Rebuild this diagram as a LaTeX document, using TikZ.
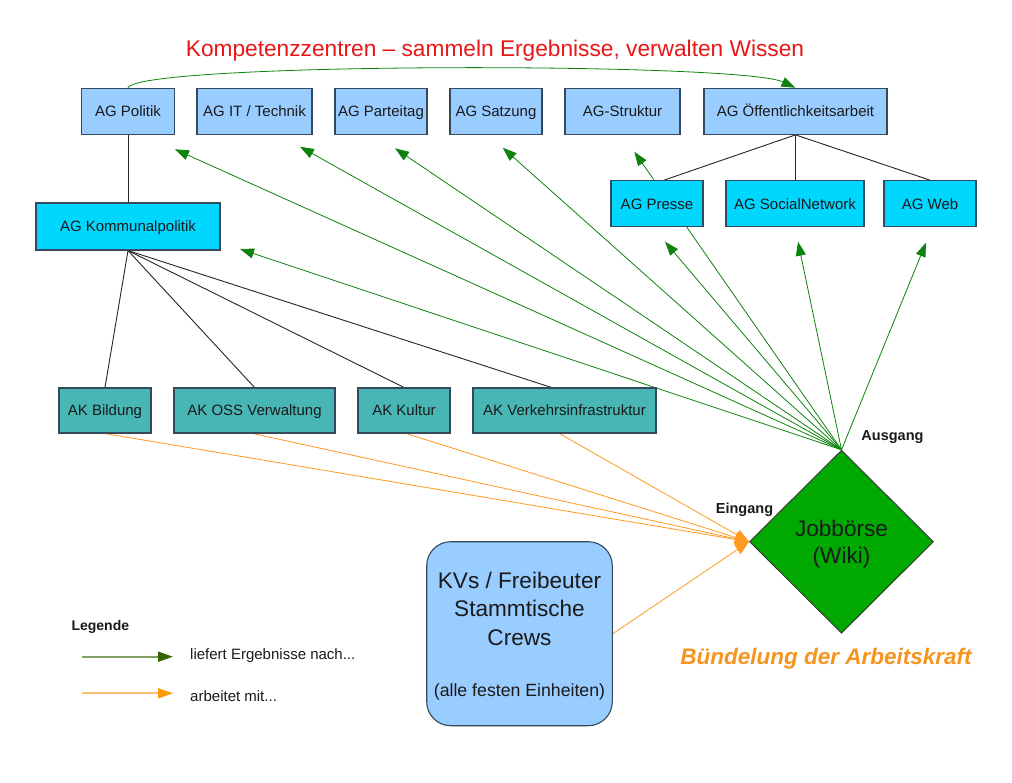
\documentclass[tikz,border=0pt]{standalone}
\usepackage{fontspec}
\setmainfont{Liberation Sans}
\usetikzlibrary{shapes.geometric,arrows.meta,backgrounds,calc}
\definecolor{boxblue}{HTML}{99CCFF}
\definecolor{cyanbox}{HTML}{00D7FF}
\definecolor{tealbox}{HTML}{47B6B4}
\definecolor{jobgreen}{HTML}{00A800}
\definecolor{edgedark}{HTML}{34495A}
\definecolor{arrgreen}{HTML}{0E820E}
\definecolor{arrorange}{HTML}{FF9A1F}
\definecolor{titlered}{HTML}{E81616}
\definecolor{legline}{HTML}{7E9E62}
\definecolor{leghead}{HTML}{336600}
\definecolor{legorange}{HTML}{FFC078}
\definecolor{legoranghead}{HTML}{FF9900}
\definecolor{bundorange}{HTML}{F7941D}
\definecolor{txt}{HTML}{1A1A1A}
\begin{document}
\begin{tikzpicture}[x=1pt,y=-1pt,
  box/.style={draw=edgedark, line width=1.1pt, inner sep=0pt, minimum height=46pt,
    text=txt, font=\fontsize{15}{18}\selectfont, text height=10.8pt, text depth=0pt},
  agbox/.style={box, fill=boxblue},
  subbox/.style={box, fill=cyanbox},
  akbox/.style={box, fill=tealbox, minimum height=45pt},
  gline/.style={draw=arrgreen, line width=0.8pt, -{Triangle[length=14pt,width=10pt]}},
  oline/.style={draw=arrorange, line width=0.8pt, -{Triangle[length=14pt,width=11pt]}},
  tline/.style={draw=black!85, line width=0.9pt},
  lbl/.style={anchor=base, text=txt},
  bignum/.style={anchor=base, text=txt, font=\fontsize{22.6}{27}\selectfont}
]
\useasboundingbox (0,0) rectangle (1012,782);

% title
\node[anchor=base, text=titlered, font=\fontsize{22.7}{27}\selectfont] (title) at (495,56)
  {Kompetenzzentren – sammeln Ergebnisse, verwalten Wissen};

% top row
\node[agbox,minimum width=93pt]  (pol)   at (128,111.3)   {AG Politik};
\node[agbox,minimum width=115pt] (it)    at (254.5,111.3) {AG IT / Technik};
\node[agbox,minimum width=92pt]  (part)  at (381,111.3)   {AG Parteitag};
\node[agbox,minimum width=92pt]  (satz)  at (496,111.3)   {AG Satzung};
\node[agbox,minimum width=115pt] (struk) at (622.5,111.3) {AG-Struktur};
\node[agbox,minimum width=183pt] (oeff)  at (795.5,111.3) {AG Öffentlichkeitsarbeit};

% second row right
\node[subbox,minimum width=92pt]  (presse) at (657,203.7) {AG Presse};
\node[subbox,minimum width=138pt] (social) at (795,203.7) {AG SocialNetwork};
\node[subbox,minimum width=92pt]  (web)    at (930,203.7) {AG Web};

% Kommunalpolitik
\node[subbox,minimum width=184pt,minimum height=47pt] (komm) at (128,226.5) {AG Kommunalpolitik};

% AK row
\node[akbox,minimum width=92pt]  (bild) at (105,410.5)   {AK Bildung};
\node[akbox,minimum width=161pt] (oss)  at (254.5,410.5) {AK OSS Verwaltung};
\node[akbox,minimum width=92pt]  (kult) at (404,410.5)   {AK Kultur};
\node[akbox,minimum width=183pt] (verk) at (564.5,410.5) {AK Verkehrsinfrastruktur};

% KVs box
\node[draw=edgedark, line width=1.1pt, fill=boxblue, rounded corners=24pt,
  minimum width=185.6pt, minimum height=184pt, inner sep=0pt] (kvs) at (519.5,633.7) {};
\node[bignum] (kvs1) at (519.5,588.3) {KVs / Freibeuter};
\node[bignum] (kvs2) at (519.5,616.7) {Stammtische};
\node[bignum] (kvs3) at (519.5,645) {Crews};
\node[lbl, font=\fontsize{17.7}{21}\selectfont] (kvs4) at (519.5,696.5) {(alle festen Einheiten)};

% Jobboerse diamond
\node[diamond, draw=black!80, fill=jobgreen, line width=0.9pt, aspect=1,
  minimum width=184pt, minimum height=183pt, inner sep=0pt] (job) at (841.5,541.7) {};
\node[bignum] (job1) at (841.5,536.7) {Jobbörse};
\node[bignum] (job2) at (841.5,563) {(Wiki)};

% labels
\node[lbl, font=\bfseries\fontsize{14.5}{17}\selectfont] (ausg) at (892.5,440.3) {Ausgang};
\node[lbl, font=\bfseries\fontsize{14.5}{17}\selectfont] (eing) at (744.5,513.3) {Eingang};
\node[anchor=base, text=bundorange, font=\bfseries\itshape\fontsize{22.5}{27}\selectfont] (bund)
  at (826,664.4) {Bündelung der Arbeitskraft};

% legend
\node[anchor=base west, text=txt, font=\bfseries\fontsize{14}{17}\selectfont] (leg) at (68,630) {Legende};
\coordinate (lg1a) at (82,656.7);
\coordinate (lg1b) at (173,656.7);
\coordinate (lg2a) at (82,693.3);
\coordinate (lg2b) at (173,693.3);
\draw[draw=legline, line width=1.8pt, -{Triangle[length=15pt,width=10pt,color=leghead]}] (lg1a) -- (lg1b);
\draw[draw=legorange, line width=1.8pt, -{Triangle[length=15pt,width=10pt,color=legoranghead]}] (lg2a) -- (lg2b);
\node[anchor=base west, text=txt, font=\fontsize{15}{18}\selectfont] (lt1) at (186.7,659.3) {liefert Ergebnisse nach...};
\node[anchor=base west, text=txt, font=\fontsize{15}{18}\selectfont] (lt2) at (186.7,701.3) {arbeitet mit...};

% arrow tip targets
\coordinate (tpol)    at (175,149.3);
\coordinate (tit)     at (300,146.7);
\coordinate (tpart)   at (395,148.3);
\coordinate (tsatz)   at (502.7,147.7);
\coordinate (tstruk)  at (634.3,151.7);
\coordinate (tkomm)   at (240,249);
\coordinate (tpresse) at (665,241.7);
\coordinate (tsocial) at (798,241.7);
\coordinate (tweb)    at (926,242.7);

% curved arrow on top
\draw[gline] (pol.north) .. controls (140,62) and (740,62) .. (oeff.north);

\begin{pgfonlayer}{background}
\fill[white] (0,0) rectangle (1012,782);
% tree lines
\draw[tline] (pol.south) -- (komm.north);
\draw[tline] (oeff.south) -- ([xshift=7pt]presse.north);
\draw[tline] (oeff.south) -- (oeff.south |- social.north);
\draw[tline] (oeff.south) -- (web.north);
\draw[tline] (komm.south) -- (bild.north);
\draw[tline] (komm.south) -- (oss.north);
\draw[tline] (komm.south) -- (kult.north);
\draw[tline] (komm.south) -- ([xshift=-13pt]verk.north);
% green delivery arrows
\foreach \t in {tpol,tit,tpart,tsatz,tstruk,tkomm,tpresse,tsocial,tweb}
  \draw[gline] (job.north) -- (\t);
% orange arrows
\draw[oline] (bild.south) -- (job.west);
\draw[oline] ([xshift=-1.5pt]oss.south) -- (job.west);
\draw[oline] ([xshift=2.4pt]kult.south) -- (job.west);
\draw[oline] ([xshift=-5pt]verk.south) -- (job.west);
\draw[oline] (kvs.east) -- (job.west);
\end{pgfonlayer}
\end{tikzpicture}
\end{document}
